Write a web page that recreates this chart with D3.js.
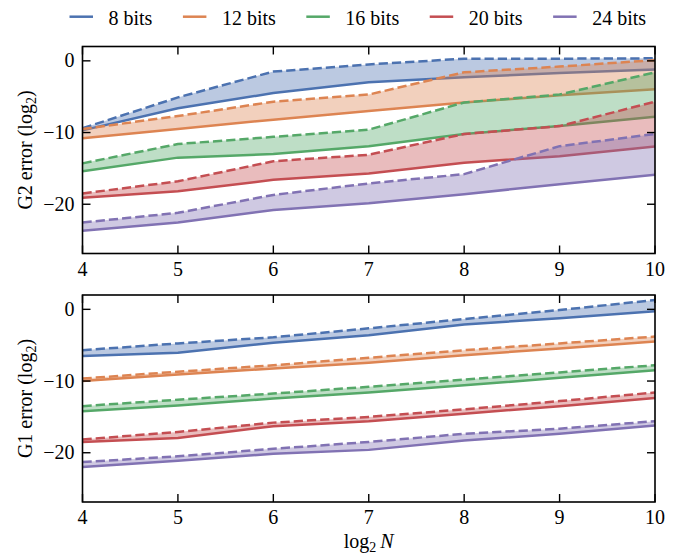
<!DOCTYPE html>
<html>
<head>
<meta charset="utf-8">
<script src="https://cdn.jsdelivr.net/npm/d3@7"></script>
<style>
  html, body { margin: 0; padding: 0; background: #fff; }
  text { font-family: "Liberation Serif", "DejaVu Serif", serif; }
</style>
</head>
<body>
<svg id="chart" width="683" height="555"></svg>
<script>
// log2 N sample points
const logN = [4, 5, 6, 7, 8, 9, 10];
const bitLabels = ["8 bits", "12 bits", "16 bits", "20 bits", "24 bits"];
const colors = ["#4C72B0", "#DD8452", "#55A868", "#C44E52", "#8172B3"];

// G2 error (log2): worst case (dashed) and typical (solid), one row per bit width
const g2Upper = [
  [-9.4, -5.1, -1.5, -0.5, 0.3, 0.3, 0.35],
  [-9.5, -7.7, -5.7, -4.7, -1.6, -0.8, 0.1],
  [-14.3, -11.6, -10.6, -9.6, -5.8, -4.7, -1.6],
  [-18.5, -16.8, -14.0, -13.1, -10.2, -9.1, -5.7],
  [-22.55, -21.2, -18.7, -17.1, -15.8, -11.9, -10.2]
];
const g2Lower = [
  [-9.7, -6.6, -4.5, -3.0, -2.3, -1.7, -1.2],
  [-10.8, -9.5, -8.2, -7.0, -5.8, -4.8, -3.95],
  [-15.4, -13.5, -13.0, -11.9, -10.2, -9.1, -7.8],
  [-19.1, -18.2, -16.6, -15.7, -14.2, -13.3, -11.95],
  [-23.7, -22.55, -20.8, -19.85, -18.6, -17.2, -15.9]
];

// G1 error (log2)
const g1Upper = [
  [-5.7, -4.75, -3.9, -2.65, -1.35, -0.1, 1.3],
  [-9.65, -8.7, -7.8, -6.75, -5.7, -4.75, -3.8],
  [-13.5, -12.6, -11.75, -10.8, -9.8, -8.8, -7.8],
  [-18.15, -17.1, -15.8, -15.0, -13.95, -12.8, -11.6],
  [-21.3, -20.5, -19.45, -18.5, -17.35, -16.65, -15.6]
];
const g1Lower = [
  [-6.5, -6.05, -4.65, -3.6, -2.1, -1.25, -0.25],
  [-10.0, -9.1, -8.25, -7.45, -6.4, -5.45, -4.5],
  [-14.2, -13.4, -12.45, -11.6, -10.6, -9.55, -8.5],
  [-18.5, -17.95, -16.3, -15.6, -14.55, -13.5, -12.35],
  [-22.0, -21.1, -20.15, -19.6, -18.3, -17.35, -16.2]
];

const xTicks = [4, 5, 6, 7, 8, 9, 10];
const yTicks = [0, -10, -20];
const yDomain = [-26.87, 2.0];

const svg = d3.select("#chart");
const fontSize = 20;
const serif = "Liberation Serif, DejaVu Serif, serif";
const left = 82.5, right = 655;

const x = d3.scaleLinear().domain([4, 10]).range([left, right]);

const panels = [
  { top: 46.5, bottom: 253.5, upper: g2Upper, lower: g2Lower, name: "G2", id: "clipTop" },
  { top: 295, bottom: 502, upper: g1Upper, lower: g1Lower, name: "G1", id: "clipBottom" }
];

const fmt = v => (v < 0 ? "\u2212" + Math.abs(v) : String(v));

panels.forEach((p) => {
  const y = d3.scaleLinear().domain(yDomain).range([p.bottom, p.top]);

  svg.append("clipPath").attr("id", p.id)
    .append("rect")
    .attr("x", left).attr("y", p.top)
    .attr("width", right - left).attr("height", p.bottom - p.top);

  const g = svg.append("g").attr("clip-path", `url(#${p.id})`);

  const area = d3.area()
    .x((d, i) => x(logN[i]))
    .y0(d => y(d[0]))
    .y1(d => y(d[1]));
  const line = d3.line()
    .x((d, i) => x(logN[i]))
    .y(d => y(d));

  bitLabels.forEach((lab, si) => {
    const pairs = logN.map((_, i) => [p.lower[si][i], p.upper[si][i]]);
    g.append("path")
      .attr("d", area(pairs))
      .attr("fill", colors[si])
      .attr("fill-opacity", 0.38)
      .attr("stroke", "none");
    g.append("path")
      .attr("d", line(p.lower[si]))
      .attr("fill", "none")
      .attr("stroke", colors[si])
      .attr("stroke-width", 2.5);
    g.append("path")
      .attr("d", line(p.upper[si]))
      .attr("fill", "none")
      .attr("stroke", colors[si])
      .attr("stroke-width", 2.5)
      .attr("stroke-dasharray", "9.25,4");
  });

  // inward ticks on all four sides
  const tickLen = 8;
  const axes = svg.append("g").attr("stroke", "#000").attr("stroke-width", 1.4);
  xTicks.forEach(t => {
    axes.append("line").attr("x1", x(t)).attr("x2", x(t))
      .attr("y1", p.bottom).attr("y2", p.bottom - tickLen);
    axes.append("line").attr("x1", x(t)).attr("x2", x(t))
      .attr("y1", p.top).attr("y2", p.top + tickLen);
  });
  yTicks.forEach(t => {
    axes.append("line").attr("x1", left).attr("x2", left + tickLen)
      .attr("y1", y(t)).attr("y2", y(t));
    axes.append("line").attr("x1", right).attr("x2", right - tickLen)
      .attr("y1", y(t)).attr("y2", y(t));
  });

  // frame
  svg.append("rect")
    .attr("x", left).attr("y", p.top)
    .attr("width", right - left).attr("height", p.bottom - p.top)
    .attr("fill", "none").attr("stroke", "#000").attr("stroke-width", 1.6);

  // tick labels
  const labels = svg.append("g")
    .attr("font-family", serif).attr("font-size", fontSize).attr("fill", "#000");
  xTicks.forEach(t => {
    labels.append("text")
      .attr("x", x(t)).attr("y", p.bottom + 22)
      .attr("text-anchor", "middle")
      .text(fmt(t));
  });
  yTicks.forEach(t => {
    labels.append("text")
      .attr("x", left - 8).attr("y", y(t))
      .attr("dy", "0.33em")
      .attr("text-anchor", "end")
      .text(fmt(t));
  });

  // y-axis title with subscript
  const cy = (p.top + p.bottom) / 2;
  const yl = svg.append("text")
    .attr("transform", `translate(31.5,${cy}) rotate(-90)`)
    .attr("text-anchor", "middle")
    .attr("font-family", serif)
    .attr("font-size", fontSize);
  yl.append("tspan").text(p.name + " error (log");
  yl.append("tspan").attr("font-size", 14).attr("dy", 4).text("2");
  yl.append("tspan").attr("dy", -4).text(")");
});

// x-axis title
const xl = svg.append("text")
  .attr("x", (left + right) / 2).attr("y", 548)
  .attr("text-anchor", "middle")
  .attr("font-family", serif)
  .attr("font-size", fontSize);
xl.append("tspan").text("log");
xl.append("tspan").attr("font-size", 14).attr("dy", 4).text("2");
xl.append("tspan").attr("dy", -4).text("\u2009");
xl.append("tspan").attr("font-style", "italic").text("N");

// legend across the top
const legend = svg.append("g").attr("font-family", serif).attr("font-size", fontSize);
let lx = 69.5;
const handleLen = 23.5, handleGap = 15.5, colGap = 30.5;
bitLabels.forEach((lab, si) => {
  legend.append("line")
    .attr("x1", lx).attr("x2", lx + handleLen)
    .attr("y1", 16.7).attr("y2", 16.7)
    .attr("stroke", colors[si]).attr("stroke-width", 2.5);
  const t = legend.append("text")
    .attr("x", lx + handleLen + handleGap).attr("y", 24.5)
    .text(lab);
  const w = t.node().getComputedTextLength();
  lx += handleLen + handleGap + w + colGap;
});
</script>
</body>
</html>
